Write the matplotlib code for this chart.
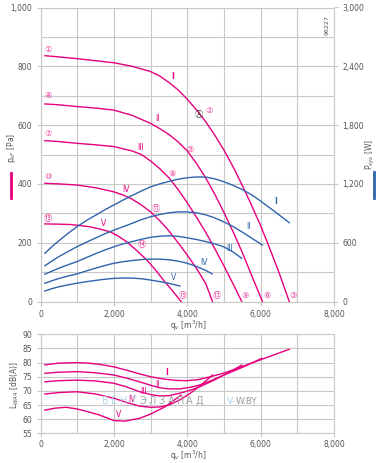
import matplotlib.pyplot as plt
from matplotlib.ticker import FuncFormatter, MultipleLocator
from matplotlib.lines import Line2D

PINK = '#e6007e'
BLUE = '#2f64ad'
GRID = '#c8c8c8'
TXT = '#555555'
SYM = ['DejaVu Sans', 'Noto Sans CJK JP']

# pressure curves p_sF [Pa] vs q_v [m3/h]
q_p1 = [120, 500, 1000, 1500, 2000, 2500, 3000, 3250, 3500, 3750, 4000, 4250, 4500, 4750,
        5000, 5250, 5500, 5750, 6000, 6250, 6500, 6780]
p1 = [836, 832, 826, 819, 812, 800, 782, 767, 745, 720, 688, 652, 612, 566,
      515, 458, 395, 328, 258, 180, 99, 0]
q_p2 = [120, 500, 1000, 1500, 2000, 2500, 3000, 3250, 3500, 3750, 4000, 4250, 4500, 4750,
        5000, 5250, 5500, 5750, 6050]
p2 = [672, 669, 663, 658, 651, 633, 606, 588, 568, 543, 512, 470, 421, 365,
      303, 237, 167, 90, 0]
q_p3 = [120, 500, 1000, 1500, 2000, 2500, 2750, 3000, 3250, 3500, 3750, 4000, 4250, 4500,
        4750, 5000, 5250, 5485]
p3 = [547, 544, 538, 533, 527, 512, 500, 478, 452, 421, 381, 336, 287, 236,
      180, 121, 60, 0]
q_p4 = [120, 500, 1000, 1500, 2000, 2250, 2500, 2750, 3000, 3250, 3500, 3750, 4000, 4250,
        4500, 4690]
p4 = [402, 400, 396, 387, 373, 362, 348, 328, 305, 275, 240, 200, 158, 113,
      62, 0]
q_p5 = [120, 500, 800, 1100, 1350, 1600, 1900, 2100, 2350, 2600, 2900, 3150, 3350, 3600, 3830]
p5 = [264, 263, 262, 258, 254, 247, 237, 224, 203, 176, 141, 105, 73, 36, 0]

# power curves P_sys [W]
q_w1 = [120, 300, 500, 750, 1000, 1250, 1500, 1750, 2000, 2250, 2500, 2750, 3000, 3250,
        3500, 3750, 4000, 4250, 4500, 4750, 5000, 5250, 5500, 5750, 6000, 6250, 6500, 6780]
w1 = [492, 555, 620, 695, 765, 826, 880, 935, 985, 1035, 1082, 1128, 1170, 1200,
      1225, 1248, 1263, 1271, 1270, 1252, 1222, 1185, 1142, 1090, 1025, 955, 885, 804]
q_w2 = [120, 300, 500, 750, 1000, 1250, 1500, 1750, 2000, 2250, 2500, 2750, 3000, 3250,
        3500, 3750, 4000, 4250, 4500, 4750, 5000, 5250, 5500, 5750, 6050]
w2 = [365, 410, 458, 510, 560, 605, 648, 690, 728, 763, 798, 835, 865, 888,
      905, 915, 914, 905, 885, 853, 812, 765, 708, 648, 576]
q_w3 = [120, 300, 500, 750, 1000, 1250, 1500, 1750, 2000, 2250, 2500, 2750, 3000, 3250,
        3500, 3750, 4000, 4250, 4500, 4750, 5000, 5250, 5485]
w3 = [278, 308, 340, 375, 408, 448, 488, 525, 558, 588, 612, 635, 655, 666,
      671, 665, 650, 633, 612, 588, 557, 505, 441]
q_w4 = [120, 300, 500, 750, 1000, 1250, 1500, 1750, 2000, 2250, 2500, 2750, 3000, 3250,
        3500, 3750, 4000, 4250, 4500, 4680]
w4 = [186, 210, 235, 260, 282, 312, 340, 367, 390, 406, 418, 428, 433, 432,
      426, 412, 390, 358, 318, 281]
q_w5 = [120, 300, 500, 750, 1000, 1250, 1500, 1750, 2000, 2250, 2500, 2750, 3000, 3250,
        3500, 3800]
w5 = [107, 130, 150, 170, 187, 202, 215, 227, 236, 240, 239, 232, 219, 203,
      185, 158]

# sound power L_WA [dB(A)]
q_l1 = [120, 500, 1000, 1300, 1600, 2000, 2350, 2700, 3000, 3400, 3700, 4000, 4300, 4600,
        5000, 5500, 6000, 6400, 6780]
l1 = [79.2, 79.8, 80.0, 79.8, 79.4, 78.5, 77.3, 76.0, 75.0, 74.1, 73.7, 73.6, 74.0, 74.9,
      76.3, 78.6, 81.0, 82.9, 84.7]
q_l2 = [120, 500, 1000, 1500, 2000, 2350, 2700, 3000, 3250, 3500, 3800, 4100, 4350, 4700,
        5000, 5500, 6030]
l2 = [76.2, 76.6, 76.8, 76.4, 75.6, 74.5, 73.2, 72.0, 71.1, 70.7, 70.7, 71.3, 72.1, 73.9,
      75.6, 78.3, 81.5]
q_l3 = [120, 500, 1000, 1500, 2000, 2350, 2700, 3000, 3250, 3500, 3800, 4100, 4350, 4700,
        5000, 5250, 5485]
l3 = [73.2, 73.6, 73.8, 73.5, 72.7, 71.4, 69.7, 68.7, 68.2, 68.3, 69.2, 70.3, 71.5, 73.6,
      75.6, 77.3, 79.1]
q_l4 = [120, 500, 1000, 1500, 2000, 2350, 2700, 3000, 3250, 3500, 3800, 4100, 4350, 4690]
l4 = [68.9, 69.4, 69.7, 68.9, 67.4, 65.9, 64.6, 64.2, 64.3, 65.0, 66.8, 69.3, 71.8, 75.6]
q_l5 = [120, 400, 700, 1000, 1300, 1600, 2000, 2300, 2700, 3000, 3400, 3830]
l5 = [63.2, 63.9, 64.2, 63.6, 62.6, 61.5, 59.5, 59.3, 60.3, 61.8, 64.4, 68.5]

curve_names = ['I', 'II', 'III', 'IV', 'V']

fig = plt.figure(figsize=(3.84, 4.63), dpi=100)
W, H = 384, 463


def box(x0, y0, x1, y1):
    return [x0 / W, 1 - y1 / H, (x1 - x0) / W, (y1 - y0) / H]


def ftext(x, y, s, **kw):
    # text placed by figure pixel position (from top-left)
    return fig.text(x / W, 1 - y / H, s, **kw)


fmt = FuncFormatter(lambda v, p: f'{v:,.0f}')


def style(ax, pad=3):
    ax.set_xlim(0, 8000)
    ax.xaxis.set_major_locator(MultipleLocator(2000))
    ax.xaxis.set_minor_locator(MultipleLocator(1000))
    ax.xaxis.set_major_formatter(fmt)
    ax.grid(True, which='both', color=GRID, lw=0.8)
    for s in ax.spines.values():
        s.set_color(GRID)
        s.set_linewidth(0.8)
    ax.tick_params(which='both', colors=GRID, labelcolor=TXT, labelsize=5.5,
                   length=3, width=0.8, pad=3)
    ax.tick_params(axis='x', pad=pad)
    ax.tick_params(which='minor', length=0)
    ax.set_axisbelow(True)


# ---- top: pressure + power
ax = fig.add_axes(box(40.5, 7.5, 334, 301.5))
style(ax)
ax.set_ylim(0, 1000)
ax.yaxis.set_major_locator(MultipleLocator(200))
ax.yaxis.set_minor_locator(MultipleLocator(100))
ax.yaxis.set_major_formatter(fmt)

ax2 = ax.twinx()
ax2.set_ylim(0, 3000)
ax2.yaxis.set_major_locator(MultipleLocator(600))
ax2.yaxis.set_major_formatter(fmt)
ax2.tick_params(colors=GRID, labelcolor=TXT, labelsize=5.5, length=3, width=0.8, pad=3)
for s in ax2.spines.values():
    s.set_visible(False)

for q, p in [(q_p1, p1), (q_p2, p2), (q_p3, p3), (q_p4, p4), (q_p5, p5)]:
    ax.plot(q, p, color=PINK, lw=1.0)
for q, w in [(q_w1, w1), (q_w2, w2), (q_w3, w3), (q_w4, w4), (q_w5, w5)]:
    ax2.plot(q, w, color=BLUE, lw=1.0)

ftext(188, 326, 'q$_v$ [m$^3$/h]', fontsize=5.5, color=TXT, ha='center', va='center')

# circled operating points
marks = [('①', 47.7, 49), ('④', 47.7, 96), ('⑦', 47.7, 134), ('⑩', 47.7, 177), ('⑬', 47.7, 218),
         ('②', 209.3, 110.7), ('⑤', 190, 149), ('⑧', 171.7, 173.3), ('⑪', 155.5, 209), ('⑭', 141.5, 244.5),
         ('③', 293.3, 295.7), ('⑥', 266.7, 295.7), ('⑨', 245, 295.7), ('⑫', 216.7, 295.7), ('⑮', 183.3, 295.7)]
for t, x, y in marks:
    ftext(x, y, t, color=PINK, fontsize=6, ha='center', va='center', family=SYM, alpha=0.75)
ftext(199.3, 115, 'Ⓐ', color='#444444', fontsize=6, ha='center', va='center', family=SYM)

pink_lab = [(172.7, 76.7), (157.3, 118.3), (140.3, 147.7), (126, 189.3), (104, 223.3)]
blue_lab = [(276, 201.7), (248.3, 226.7), (230, 248.3), (204.3, 262.7), (173.3, 277.3)]
for n, (x, y) in zip(curve_names, pink_lab):
    ftext(x, y, n, color=PINK, fontsize=5.5, ha='center', va='center',
          fontweight='bold' if n == 'I' else 'normal')
for n, (x, y) in zip(curve_names, blue_lab):
    ftext(x, y, n, color=BLUE, fontsize=5.5, ha='center', va='center',
          fontweight='bold' if n == 'I' else 'normal')

ftext(326.7, 25, '96227', rotation=90, fontsize=4.5, color=TXT, ha='center', va='center')

# axis titles with colour bars
ftext(11, 148, 'p$_{sF}$ [Pa]', rotation=90, fontsize=5.5, color=TXT, ha='center', va='center')
fig.add_artist(Line2D([11 / W, 11 / W], [1 - 172.7 / H, 1 - 198.3 / H], color=PINK, lw=2))
ftext(370, 155, 'P$_{sys}$ [W]', rotation=90, fontsize=5.5, color=TXT, ha='center', va='center')
fig.add_artist(Line2D([374 / W, 374 / W], [1 - 171.7 / H, 1 - 198.3 / H], color=BLUE, lw=2))

# ---- bottom: sound power
bx = fig.add_axes(box(40.5, 334.3, 334, 433.3))
style(bx, pad=1.5)
bx.set_ylim(55, 90)
bx.yaxis.set_major_locator(MultipleLocator(5))
for q, l in [(q_l1, l1), (q_l2, l2), (q_l3, l3), (q_l4, l4), (q_l5, l5)]:
    bx.plot(q, l, color=PINK, lw=1.0)
ftext(188, 456, 'q$_v$ [m$^3$/h]', fontsize=5.5, color=TXT, ha='center', va='center')
ftext(15, 385, 'L$_{WA4}$ [dB(A)]', rotation=90, fontsize=5.5, color=TXT, ha='center', va='center')

low_lab = [(166.7, 372.7), (157, 384.3), (143.3, 391), (131.7, 400), (119, 414.3)]
for n, (x, y) in zip(curve_names, low_lab):
    ftext(x, y, n, color=PINK, fontsize=5.5, ha='center', va='center',
          fontweight='bold' if n == 'I' else 'normal')

# watermark
for i, ch in enumerate('ВЕНТЭЛЗАПАД'):
    ftext(105 + i * 9.4, 401, ch, color='#a9d3ee' if i < 4 else '#9a9a9a',
          fontsize=7, ha='center', va='center', alpha=0.9)
ftext(227, 401, 'V-', color='#a9d3ee', fontsize=6.5, ha='left', va='center')
ftext(235.5, 401, 'W.BY', color='#9a9a9a', fontsize=6.5, ha='left', va='center')

fig.savefig('out.png', dpi=100)
